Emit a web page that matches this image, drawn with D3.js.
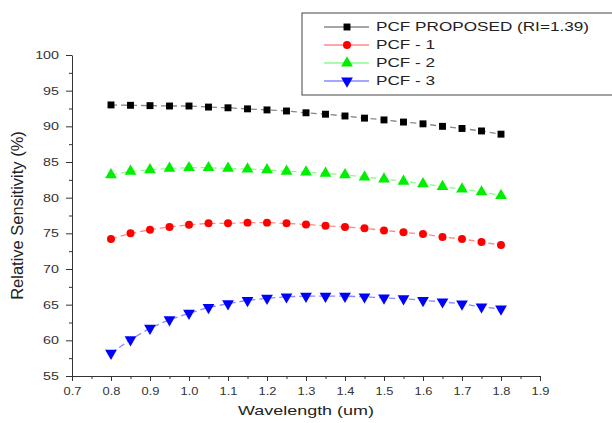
<!DOCTYPE html>
<meta charset="utf-8">
<html>
    <head>
        <script src="https://d3js.org/d3.v7.min.js"></script>
    </head>
    <style>
        body { margin: 0; background: #fff; }
        text { font-family: "Liberation Sans", Arial, sans-serif; }
    </style>
    <body>
        <div id="chart"></div>
        <script>

            var wavelength = [0.8, 0.85, 0.9, 0.95, 1.0, 1.05, 1.1, 1.15, 1.2, 1.25, 1.3,
                              1.35, 1.4, 1.45, 1.5, 1.55, 1.6, 1.65, 1.7, 1.75, 1.8]

            var proposed = [93.0, 92.95, 92.9, 92.85, 92.85, 92.7, 92.6, 92.45, 92.3, 92.15, 91.9,
                            91.7, 91.45, 91.15, 90.9, 90.6, 90.35, 90.0, 89.7, 89.35, 88.9]
            var pcf1 = [74.2, 75.0, 75.5, 75.9, 76.2, 76.4, 76.4, 76.5, 76.5, 76.4, 76.25,
                        76.05, 75.9, 75.7, 75.4, 75.15, 74.9, 74.5, 74.2, 73.8, 73.35]
            var pcf2 = [83.2, 83.7, 83.9, 84.1, 84.2, 84.2, 84.1, 84.0, 83.9, 83.7, 83.6,
                        83.4, 83.2, 82.9, 82.6, 82.3, 81.95, 81.55, 81.2, 80.8, 80.3]
            var pcf3 = [58.2, 60.1, 61.7, 62.9, 63.8, 64.6, 65.15, 65.6, 65.9, 66.1, 66.2,
                        66.2, 66.2, 66.1, 65.95, 65.85, 65.6, 65.4, 65.1, 64.7, 64.4]

            var seriesNames = ["PCF PROPOSED (RI=1.39)", "PCF - 1", "PCF - 2", "PCF - 3"]
            var xTicks = [0.7, 0.8, 0.9, 1.0, 1.1, 1.2, 1.3, 1.4, 1.5, 1.6, 1.7, 1.8, 1.9]
            var yTicks = [55, 60, 65, 70, 75, 80, 85, 90, 95, 100]

            var series = [
                { name: seriesNames[0], values: proposed, color: "#000", line: "#888", symbol: d3.symbolSquare, size: 48, rot: 0 },
                { name: seriesNames[1], values: pcf1, color: "#f00", line: "#f88", symbol: d3.symbolCircle, size: 50, rot: 0 },
                { name: seriesNames[2], values: pcf2, color: "#0e0", line: "#8f8", symbol: d3.symbolTriangle, size: 60, rot: 0 },
                { name: seriesNames[3], values: pcf3, color: "#00f", line: "#88f", symbol: d3.symbolTriangle, size: 60, rot: 180 }
            ]

            var width = 612, height = 423
            var svg = d3.select("#chart").append("svg")
                .attr("width", width)
                .attr("height", height)

            var x = d3.scaleLinear().domain([0.7, 1.9]).range([72, 540])
            var y = d3.scaleLinear().domain([55, 100]).range([376, 55])

            // minor ticks
            var xMinor = d3.range(0.75, 1.9, 0.1)
            var yMinor = d3.range(57.5, 100, 5)

            var xAxis = svg.append("g")
                .attr("transform", "translate(0," + y(55) + ")")
                .call(d3.axisBottom(x).tickValues(xTicks).tickFormat(d3.format(".1f")).tickSize(5).tickSizeOuter(0))
            xAxis.selectAll("text")
                .attr("font-size", 11.5).attr("fill", "#333")
                .attr("y", 0).attr("dy", 0)
                .attr("transform", "translate(0,19) scale(1.12,1)")
            svg.append("g")
                .attr("transform", "translate(0," + y(55) + ")")
                .call(d3.axisBottom(x).tickValues(xMinor).tickFormat("").tickSize(3).tickSizeOuter(0))
                .select(".domain").remove()

            var yAxis = svg.append("g")
                .attr("transform", "translate(" + x(0.7) + ",0)")
                .call(d3.axisLeft(y).tickValues(yTicks).tickSize(6).tickSizeOuter(0))
            yAxis.selectAll("text")
                .attr("font-size", 11).attr("fill", "#333")
                .attr("x", 0)
                .attr("transform", "translate(-13,0) scale(1.3,1)")
            svg.append("g")
                .attr("transform", "translate(" + x(0.7) + ",0)")
                .call(d3.axisLeft(y).tickValues(yMinor).tickFormat("").tickSize(3).tickSizeOuter(0))
                .select(".domain").remove()

            svg.selectAll(".domain, .tick line").attr("stroke", "#333")

            // axis titles
            svg.append("text")
                .attr("transform", "translate(" + ((x(0.7) + x(1.9)) / 2) + ",415) scale(1.38,1)")
                .attr("text-anchor", "middle")
                .attr("font-size", 13)
                .attr("fill", "#222")
                .text("Wavelength (um)")

            svg.append("text")
                .attr("transform", "translate(23," + (y(77.5)) + ") rotate(-90)")
                .attr("text-anchor", "middle")
                .attr("font-size", 16.5)
                .attr("fill", "#222")
                .text("Relative Sensitivity (%)")

            // series
            var line = d3.line().x((d, i) => x(wavelength[i])).y(d => y(d))

            series.forEach(s => {
                svg.append("path")
                    .datum(s.values)
                    .attr("d", line)
                    .attr("fill", "none")
                    .attr("stroke", s.line)
                    .attr("stroke-width", 1.3)
                    .attr("stroke-dasharray", "6,4")

                svg.append("g").selectAll("path")
                    .data(s.values)
                    .join("path")
                    .attr("d", d3.symbol().type(s.symbol).size(s.size))
                    .attr("transform", (d, i) => "translate(" + x(wavelength[i]) + "," + y(d) + ") rotate(" + s.rot + ")")
                    .attr("fill", s.color)
            })

            // legend
            var legend = svg.append("g")
            legend.append("rect")
                .attr("x", 302).attr("y", 13)
                .attr("width", 320).attr("height", 82)
                .attr("fill", "#fff")
                .attr("stroke", "#444")
                .attr("stroke-width", 1)

            series.forEach((s, i) => {
                var ly = 27 + i * 18
                legend.append("line")
                    .attr("x1", 324).attr("x2", 369)
                    .attr("y1", ly).attr("y2", ly)
                    .attr("stroke", s.line)
                    .attr("stroke-width", 1.3)
                legend.append("path")
                    .attr("d", d3.symbol().type(s.symbol).size(s.size))
                    .attr("transform", "translate(347," + ly + ") rotate(" + s.rot + ")")
                    .attr("fill", s.color)
                legend.append("text")
                    .attr("transform", "translate(376," + ly + ") scale(1.43,1)")
                    .attr("dy", "0.36em")
                    .attr("font-size", 12)
                    .attr("fill", "#222")
                    .text(s.name)
            })

        </script>
    </body>
</html>
